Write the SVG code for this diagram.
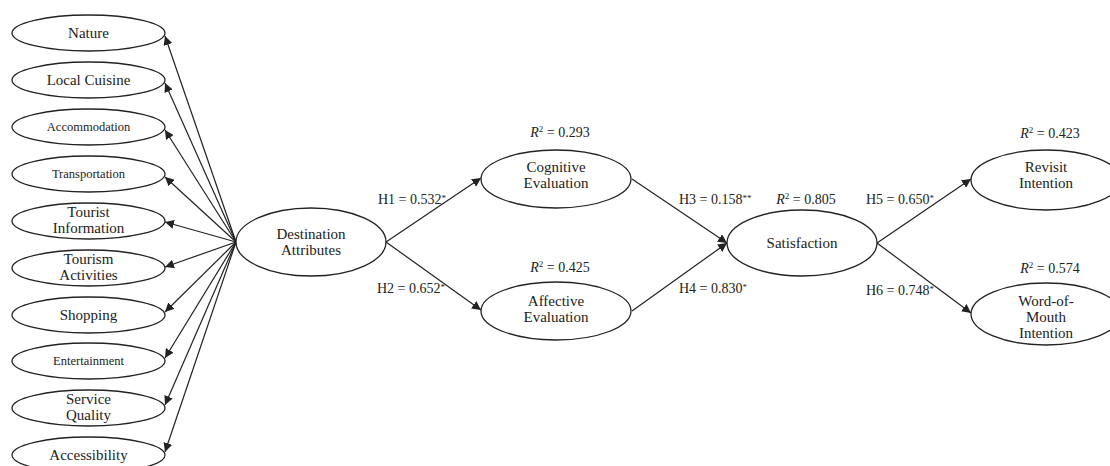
<svg xmlns="http://www.w3.org/2000/svg" width="1110" height="466" viewBox="0 0 1110 466">
<style>
text{font-family:"Liberation Serif","DejaVu Serif",serif;fill:#222;text-anchor:middle;font-size:14px}
.n{font-size:15px}
.sm{font-size:12.5px}
.lab{text-anchor:start}
ellipse{fill:#fff;stroke:#222;stroke-width:1.3}
.c line{stroke:#222;stroke-width:1.2;marker-end:url(#ah)}
</style>
<defs>
<marker id="ah" viewBox="0 0 10 10" refX="10" refY="5" markerWidth="9" markerHeight="9" markerUnits="userSpaceOnUse" orient="auto">
<path d="M0,0 L10,5 L0,10 z" fill="#222"/>
</marker>
</defs>
<rect width="1110" height="466" fill="#fff"/>
<g class="c" id="connectors">
<line x1="236" y1="242" x2="165" y2="36"/>
<line x1="236" y1="242" x2="165" y2="83"/>
<line x1="236" y1="242" x2="165" y2="130"/>
<line x1="236" y1="242" x2="165" y2="177"/>
<line x1="236" y1="242" x2="165" y2="222"/>
<line x1="236" y1="242" x2="165" y2="267"/>
<line x1="236" y1="242" x2="165" y2="312"/>
<line x1="236" y1="242" x2="165" y2="358"/>
<line x1="236" y1="242" x2="165" y2="405"/>
<line x1="236" y1="242" x2="165" y2="452"/>
<line x1="386" y1="242" x2="481" y2="178"/>
<line x1="386" y1="242" x2="481" y2="310"/>
<line x1="632" y1="179" x2="727" y2="243"/>
<line x1="632" y1="311" x2="727" y2="243"/>
<line x1="877" y1="243" x2="971" y2="179"/>
<line x1="877" y1="243" x2="971" y2="313"/>
</g>
<g id="nature"><ellipse cx="88.5" cy="33" rx="76.5" ry="18"/><text class="n" x="88.5" y="38">Nature</text></g>
<g id="local-cuisine"><ellipse cx="88.5" cy="80" rx="76.5" ry="18"/><text class="n" x="88.5" y="85">Local Cuisine</text></g>
<g id="accommodation"><ellipse cx="88.5" cy="127" rx="76.5" ry="18"/><text class="sm" x="88.5" y="131">Accommodation</text></g>
<g id="transportation"><ellipse cx="88.5" cy="174" rx="76.5" ry="18"/><text class="sm" x="88.5" y="178">Transportation</text></g>
<g id="tourist-information"><ellipse cx="88.5" cy="221" rx="76.5" ry="18"/><text class="n" x="88.5" y="217">Tourist</text><text class="n" x="88.5" y="233">Information</text></g>
<g id="tourism-activities"><ellipse cx="88.5" cy="268" rx="76.5" ry="18"/><text class="n" x="88.5" y="264">Tourism</text><text class="n" x="88.5" y="280">Activities</text></g>
<g id="shopping"><ellipse cx="88.5" cy="315" rx="76.5" ry="18"/><text class="n" x="88.5" y="320">Shopping</text></g>
<g id="entertainment"><ellipse cx="88.5" cy="361" rx="76.5" ry="18"/><text class="sm" x="88.5" y="365">Entertainment</text></g>
<g id="service-quality"><ellipse cx="88.5" cy="408" rx="76.5" ry="18"/><text class="n" x="88.5" y="404">Service</text><text class="n" x="88.5" y="420">Quality</text></g>
<g id="accessibility"><ellipse cx="88.5" cy="455" rx="76.5" ry="18"/><text class="n" x="88.5" y="460">Accessibility</text></g>
<g id="destination-attributes"><ellipse cx="311" cy="242" rx="75" ry="34"/><text class="n" x="311" y="239">Destination</text><text class="n" x="311" y="255">Attributes</text></g>
<g id="cognitive-evaluation"><ellipse cx="556" cy="179" rx="75" ry="29"/><text class="n" x="556" y="172">Cognitive</text><text class="n" x="556" y="188">Evaluation</text><text x="560" y="137"><tspan font-style="italic">R</tspan><tspan font-size="9" dy="-5">2</tspan><tspan dy="5"> = 0.293</tspan></text></g>
<g id="affective-evaluation"><ellipse cx="556" cy="311" rx="75" ry="29"/><text class="n" x="556" y="306">Affective</text><text class="n" x="556" y="322">Evaluation</text><text x="560" y="272"><tspan font-style="italic">R</tspan><tspan font-size="9" dy="-5">2</tspan><tspan dy="5"> = 0.425</tspan></text></g>
<g id="satisfaction"><ellipse cx="802" cy="243" rx="75" ry="33"/><text class="n" x="802" y="248">Satisfaction</text><text x="806" y="204"><tspan font-style="italic">R</tspan><tspan font-size="9" dy="-5">2</tspan><tspan dy="5"> = 0.805</tspan></text></g>
<g id="revisit-intention"><ellipse cx="1046" cy="180" rx="75" ry="30"/><text class="n" x="1046" y="172">Revisit</text><text class="n" x="1046" y="188">Intention</text><text x="1050" y="138"><tspan font-style="italic">R</tspan><tspan font-size="9" dy="-5">2</tspan><tspan dy="5"> = 0.423</tspan></text></g>
<g id="wom-intention"><ellipse cx="1046" cy="314" rx="75" ry="31"/><text class="n" x="1046" y="306">Word-of-</text><text class="n" x="1046" y="322">Mouth</text><text class="n" x="1046" y="338">Intention</text><text x="1050" y="273"><tspan font-style="italic">R</tspan><tspan font-size="9" dy="-5">2</tspan><tspan dy="5"> = 0.574</tspan></text></g>
<g id="path-labels">
<text class="lab" x="378" y="204">H1 = 0.532<tspan font-size="9" dy="-3">*</tspan></text>
<text class="lab" x="377" y="293">H2 = 0.652<tspan font-size="9" dy="-3">*</tspan></text>
<text class="lab" x="679" y="204">H3 = 0.158<tspan font-size="9" dy="-3">**</tspan></text>
<text class="lab" x="679" y="293">H4 = 0.830<tspan font-size="9" dy="-3">*</tspan></text>
<text class="lab" x="866" y="204">H5 = 0.650<tspan font-size="9" dy="-3">*</tspan></text>
<text class="lab" x="866" y="295">H6 = 0.748<tspan font-size="9" dy="-3">*</tspan></text>
</g>
</svg>
